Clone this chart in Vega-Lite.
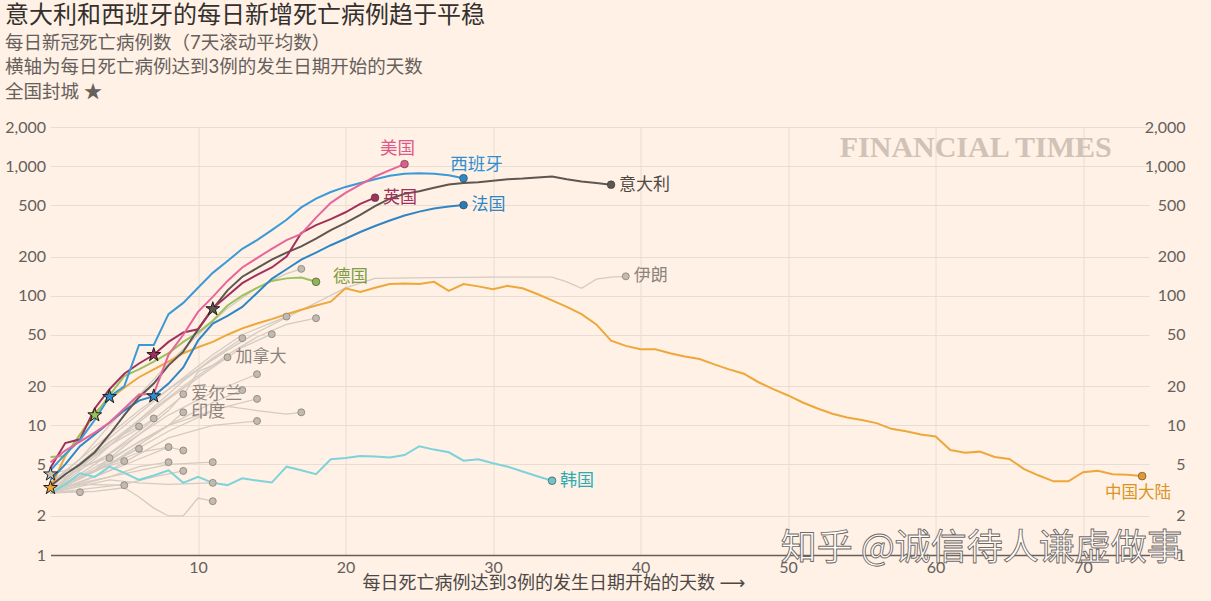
{
  "$schema": "https://vega.github.io/schema/vega-lite/v6.json",
  "width": 1099,
  "height": 428,
  "autosize": {"type": "none"},
  "padding": {"left": 50.5, "top": 127, "right": 61.5, "bottom": 46},
  "background": "#fff1e5",
  "config": {
    "view": {"stroke": null},
    "font": "Lato, 'Noto Sans CJK SC', 'DejaVu Sans', sans-serif"
  },
  "title": {
    "text": "意大利和西班牙的每日新增死亡病例趋于平稳",
    "subtitle": ["每日新冠死亡病例数（7天滚动平均数）", "横轴为每日死亡病例达到3例的发生日期开始的天数", "全国封城 ★"],
    "anchor": "start",
    "frame": "group",
    "dx": -45.5,
    "offset": 18,
    "fontSize": 24,
    "fontWeight": "normal",
    "color": "#33302e",
    "font": "Lato, 'Noto Sans CJK SC', sans-serif",
    "subtitleFont": "Lato, 'Noto Sans CJK SC', sans-serif",
    "subtitleFontSize": 18.5,
    "subtitleColor": "#66605c",
    "subtitleLineHeight": 24.5,
    "subtitlePadding": 6
  },
  "datasets": {
    "series": [
      {"c":"伊朗","d":0,"v":3.6},{"c":"伊朗","d":2,"v":5.5},{"c":"伊朗","d":4,"v":8.5},{"c":"伊朗","d":6,"v":13},{"c":"伊朗","d":8,"v":19},{"c":"伊朗","d":10,"v":27},{"c":"伊朗","d":12,"v":38},{"c":"伊朗","d":14,"v":52},{"c":"伊朗","d":16,"v":68},{"c":"伊朗","d":18,"v":88},{"c":"伊朗","d":20,"v":115},{"c":"伊朗","d":22,"v":136},{"c":"伊朗","d":26,"v":138},{"c":"伊朗","d":30,"v":139},{"c":"伊朗","d":34,"v":139},{"c":"伊朗","d":35,"v":128},{"c":"伊朗","d":36,"v":114},{"c":"伊朗","d":37,"v":134},{"c":"伊朗","d":38,"v":139},{"c":"伊朗","d":39,"v":141},
      {"c":"加拿大","d":0,"v":3},{"c":"加拿大","d":3,"v":5},{"c":"加拿大","d":6,"v":9},{"c":"加拿大","d":9,"v":17},{"c":"加拿大","d":10,"v":26},{"c":"加拿大","d":11,"v":29},{"c":"加拿大","d":12,"v":33.5},
      {"c":"爱尔兰","d":0,"v":3},{"c":"爱尔兰","d":3,"v":4.5},{"c":"爱尔兰","d":6,"v":8.5},{"c":"爱尔兰","d":8,"v":13},{"c":"爱尔兰","d":9,"v":17.4},
      {"c":"印度","d":0,"v":3.2},{"c":"印度","d":3,"v":4.5},{"c":"印度","d":6,"v":7.5},{"c":"印度","d":8,"v":10},{"c":"印度","d":9,"v":12.6},
      {"c":"g1","d":0,"v":3.5},{"c":"g1","d":2,"v":5.5},{"c":"g1","d":4,"v":10},{"c":"g1","d":6,"v":17},{"c":"g1","d":8,"v":30},{"c":"g1","d":10,"v":50},{"c":"g1","d":12,"v":80},{"c":"g1","d":14,"v":115},{"c":"g1","d":16,"v":148},{"c":"g1","d":17,"v":161},
      {"c":"g2","d":0,"v":3},{"c":"g2","d":3,"v":6},{"c":"g2","d":6,"v":11},{"c":"g2","d":9,"v":20},{"c":"g2","d":12,"v":35},{"c":"g2","d":14,"v":48},{"c":"g2","d":16,"v":60},{"c":"g2","d":18,"v":67},
      {"c":"g3","d":0,"v":3.3},{"c":"g3","d":4,"v":8},{"c":"g3","d":8,"v":19},{"c":"g3","d":11,"v":35},{"c":"g3","d":13,"v":50},{"c":"g3","d":15,"v":62},{"c":"g3","d":16,"v":69},
      {"c":"g4","d":0,"v":3.2},{"c":"g4","d":4,"v":7},{"c":"g4","d":8,"v":16},{"c":"g4","d":11,"v":28},{"c":"g4","d":13,"v":40},{"c":"g4","d":15,"v":50.5},
      {"c":"g5","d":0,"v":3},{"c":"g5","d":3,"v":5.5},{"c":"g5","d":6,"v":11},{"c":"g5","d":9,"v":22},{"c":"g5","d":11,"v":33},{"c":"g5","d":13,"v":47},
      {"c":"g6","d":0,"v":3},{"c":"g6","d":4,"v":5},{"c":"g6","d":8,"v":10},{"c":"g6","d":11,"v":15},{"c":"g6","d":13,"v":18.7},
      {"c":"g7","d":0,"v":3.5},{"c":"g7","d":4,"v":6},{"c":"g7","d":8,"v":12},{"c":"g7","d":11,"v":18},{"c":"g7","d":14,"v":24.8},
      {"c":"g8","d":0,"v":3},{"c":"g8","d":4,"v":5},{"c":"g8","d":8,"v":9},{"c":"g8","d":11,"v":13},{"c":"g8","d":12,"v":14},{"c":"g8","d":14,"v":16},
      {"c":"g9","d":0,"v":3},{"c":"g9","d":4,"v":5.5},{"c":"g9","d":8,"v":10},{"c":"g9","d":11,"v":13},{"c":"g9","d":12,"v":14},{"c":"g9","d":14,"v":13},{"c":"g9","d":16,"v":12.2},{"c":"g9","d":17,"v":12.6},
      {"c":"g10","d":0,"v":3},{"c":"g10","d":4,"v":4.5},{"c":"g10","d":8,"v":8},{"c":"g10","d":11,"v":10},{"c":"g10","d":14,"v":10.8},
      {"c":"g11","d":0,"v":3},{"c":"g11","d":2,"v":5},{"c":"g11","d":4,"v":7},{"c":"g11","d":6,"v":9.5},{"c":"g11","d":7,"v":11.3},
      {"c":"g12","d":0,"v":3.5},{"c":"g12","d":2,"v":5},{"c":"g12","d":4,"v":7.5},{"c":"g12","d":6,"v":9.8},
      {"c":"g13","d":0,"v":3},{"c":"g13","d":3,"v":4},{"c":"g13","d":6,"v":5.5},{"c":"g13","d":8,"v":6.8},
      {"c":"g14","d":0,"v":3.2},{"c":"g14","d":3,"v":4.5},{"c":"g14","d":6,"v":6.2},{"c":"g14","d":8,"v":6.8},{"c":"g14","d":9,"v":6.4},
      {"c":"g15","d":0,"v":3},{"c":"g15","d":3,"v":4.5},{"c":"g15","d":6,"v":6.6},
      {"c":"g16","d":0,"v":4.2},{"c":"g16","d":2,"v":4.8},{"c":"g16","d":4,"v":5.6},
      {"c":"g17","d":0,"v":3},{"c":"g17","d":3,"v":4.5},{"c":"g17","d":5,"v":5.3},
      {"c":"g18","d":0,"v":3},{"c":"g18","d":4,"v":4},{"c":"g18","d":6,"v":4.8},{"c":"g18","d":8,"v":5.2},
      {"c":"g19","d":0,"v":3.2},{"c":"g19","d":4,"v":4},{"c":"g19","d":8,"v":5},{"c":"g19","d":11,"v":5.2},
      {"c":"g20","d":0,"v":3},{"c":"g20","d":5,"v":3.5},{"c":"g20","d":7,"v":4},{"c":"g20","d":9,"v":4.45},
      {"c":"g21","d":0,"v":3},{"c":"g21","d":4,"v":3.8},{"c":"g21","d":6,"v":3.6},{"c":"g21","d":8,"v":3.5},{"c":"g21","d":11,"v":3.6},
      {"c":"g22","d":0,"v":3.2},{"c":"g22","d":2,"v":3.5},{"c":"g22","d":5,"v":3.45},
      {"c":"g23","d":0,"v":3},{"c":"g23","d":1,"v":3.1},{"c":"g23","d":2,"v":3.05},
      {"c":"g24","d":0,"v":3},{"c":"g24","d":3,"v":3.1},{"c":"g24","d":5,"v":3.3},{"c":"g24","d":6,"v":2.8},{"c":"g24","d":7,"v":2.3},{"c":"g24","d":8,"v":2.0},{"c":"g24","d":9,"v":2.0},{"c":"g24","d":10,"v":2.75},{"c":"g24","d":11,"v":2.6},

      {"c":"韩国","d":0,"v":3.0},{"c":"韩国","d":1,"v":3.5},{"c":"韩国","d":2,"v":4.27},{"c":"韩国","d":3,"v":4.0},{"c":"韩国","d":4,"v":4.8},{"c":"韩国","d":5,"v":4.3},{"c":"韩国","d":6,"v":3.8},{"c":"韩国","d":7,"v":4.1},{"c":"韩国","d":8,"v":4.5},{"c":"韩国","d":9,"v":3.6},{"c":"韩国","d":10,"v":4.0},{"c":"韩国","d":11,"v":3.6},{"c":"韩国","d":12,"v":3.46},{"c":"韩国","d":13,"v":3.9},{"c":"韩国","d":14,"v":3.75},{"c":"韩国","d":15,"v":3.62},{"c":"韩国","d":16,"v":4.8},{"c":"韩国","d":17,"v":4.5},{"c":"韩国","d":18,"v":4.2},{"c":"韩国","d":19,"v":5.47},{"c":"韩国","d":20,"v":5.6},{"c":"韩国","d":21,"v":5.8},{"c":"韩国","d":22,"v":5.75},{"c":"韩国","d":23,"v":5.66},{"c":"韩国","d":24,"v":5.9},{"c":"韩国","d":25,"v":6.9},{"c":"韩国","d":26,"v":6.5},{"c":"韩国","d":27,"v":6.2},{"c":"韩国","d":28,"v":5.34},{"c":"韩国","d":29,"v":5.47},{"c":"韩国","d":30,"v":5.1},{"c":"韩国","d":31,"v":4.8},{"c":"韩国","d":32,"v":4.4},{"c":"韩国","d":33,"v":4.05},{"c":"韩国","d":34,"v":3.74},

      {"c":"中国大陆","d":0,"v":3.3},{"c":"中国大陆","d":1,"v":5.8},{"c":"中国大陆","d":2,"v":8.5},{"c":"中国大陆","d":3,"v":12.5},{"c":"中国大陆","d":4,"v":16},{"c":"中国大陆","d":5,"v":19.5},{"c":"中国大陆","d":6,"v":23.5},{"c":"中国大陆","d":7,"v":27},{"c":"中国大陆","d":8,"v":31},{"c":"中国大陆","d":9,"v":36},{"c":"中国大陆","d":10,"v":40},{"c":"中国大陆","d":11,"v":44},{"c":"中国大陆","d":12,"v":50},{"c":"中国大陆","d":13,"v":56},{"c":"中国大陆","d":14,"v":61},{"c":"中国大陆","d":15,"v":66},{"c":"中国大陆","d":16,"v":72},{"c":"中国大陆","d":17,"v":78},{"c":"中国大陆","d":18,"v":84},{"c":"中国大陆","d":19,"v":90},{"c":"中国大陆","d":20,"v":114},{"c":"中国大陆","d":21,"v":107},{"c":"中国大陆","d":22,"v":115},{"c":"中国大陆","d":23,"v":123},{"c":"中国大陆","d":24,"v":124},{"c":"中国大陆","d":25,"v":123},{"c":"中国大陆","d":26,"v":128},{"c":"中国大陆","d":27,"v":109},{"c":"中国大陆","d":28,"v":123},{"c":"中国大陆","d":29,"v":118},{"c":"中国大陆","d":30,"v":112},{"c":"中国大陆","d":31,"v":119},{"c":"中国大陆","d":32,"v":114},{"c":"中国大陆","d":33,"v":103},{"c":"中国大陆","d":34,"v":92},{"c":"中国大陆","d":35,"v":82},{"c":"中国大陆","d":36,"v":72},{"c":"中国大陆","d":37,"v":60},{"c":"中国大陆","d":38,"v":45},{"c":"中国大陆","d":39,"v":41},{"c":"中国大陆","d":40,"v":38.6},{"c":"中国大陆","d":41,"v":38.6},{"c":"中国大陆","d":42,"v":36},{"c":"中国大陆","d":43,"v":34},{"c":"中国大陆","d":44,"v":32.5},{"c":"中国大陆","d":45,"v":29.5},{"c":"中国大陆","d":46,"v":27},{"c":"中国大陆","d":47,"v":25},{"c":"中国大陆","d":48,"v":21.5},{"c":"中国大陆","d":49,"v":19},{"c":"中国大陆","d":50,"v":17},{"c":"中国大陆","d":51,"v":15},{"c":"中国大陆","d":52,"v":13.5},{"c":"中国大陆","d":53,"v":12.3},{"c":"中国大陆","d":54,"v":11.5},{"c":"中国大陆","d":55,"v":11},{"c":"中国大陆","d":56,"v":10.4},{"c":"中国大陆","d":57,"v":9.4},{"c":"中国大陆","d":58,"v":9},{"c":"中国大陆","d":59,"v":8.5},{"c":"中国大陆","d":60,"v":8.2},{"c":"中国大陆","d":61,"v":6.45},{"c":"中国大陆","d":62,"v":6.15},{"c":"中国大陆","d":63,"v":6.27},{"c":"中国大陆","d":64,"v":5.7},{"c":"中国大陆","d":65,"v":5.5},{"c":"中国大陆","d":66,"v":4.6},{"c":"中国大陆","d":67,"v":4.1},{"c":"中国大陆","d":68,"v":3.7},{"c":"中国大陆","d":69,"v":3.7},{"c":"中国大陆","d":70,"v":4.35},{"c":"中国大陆","d":71,"v":4.47},{"c":"中国大陆","d":72,"v":4.2},{"c":"中国大陆","d":73,"v":4.15},{"c":"中国大陆","d":74,"v":4.06},

      {"c":"德国","d":0,"v":5.7},{"c":"德国","d":1,"v":5.8},{"c":"德国","d":2,"v":8.5},{"c":"德国","d":3,"v":12},{"c":"德国","d":4,"v":17},{"c":"德国","d":5,"v":24},{"c":"德国","d":6,"v":27},{"c":"德国","d":7,"v":31},{"c":"德国","d":8,"v":36},{"c":"德国","d":9,"v":44},{"c":"德国","d":10,"v":52},{"c":"德国","d":11,"v":64},{"c":"德国","d":12,"v":84},{"c":"德国","d":13,"v":100},{"c":"德国","d":14,"v":115},{"c":"德国","d":15,"v":130},{"c":"德国","d":16,"v":136},{"c":"德国","d":17,"v":138},{"c":"德国","d":18,"v":128},

      {"c":"法国","d":0,"v":3.8},{"c":"法国","d":1,"v":5},{"c":"法国","d":2,"v":6.9},{"c":"法国","d":3,"v":8.5},{"c":"法国","d":4,"v":10.5},{"c":"法国","d":5,"v":13},{"c":"法国","d":6,"v":15.5},{"c":"法国","d":7,"v":16.8},{"c":"法国","d":8,"v":21},{"c":"法国","d":9,"v":28},{"c":"法国","d":10,"v":45},{"c":"法国","d":11,"v":61},{"c":"法国","d":12,"v":70},{"c":"法国","d":13,"v":82},{"c":"法国","d":14,"v":105},{"c":"法国","d":15,"v":135},{"c":"法国","d":16,"v":160},{"c":"法国","d":17,"v":190},{"c":"法国","d":18,"v":215},{"c":"法国","d":19,"v":245},{"c":"法国","d":20,"v":275},{"c":"法国","d":21,"v":310},{"c":"法国","d":22,"v":345},{"c":"法国","d":23,"v":380},{"c":"法国","d":24,"v":415},{"c":"法国","d":25,"v":445},{"c":"法国","d":26,"v":470},{"c":"法国","d":27,"v":488},{"c":"法国","d":28,"v":500},

      {"c":"意大利","d":0,"v":3.4},{"c":"意大利","d":1,"v":4.2},{"c":"意大利","d":2,"v":5},{"c":"意大利","d":3,"v":6.2},{"c":"意大利","d":4,"v":8.5},{"c":"意大利","d":5,"v":12},{"c":"意大利","d":6,"v":16.5},{"c":"意大利","d":7,"v":21},{"c":"意大利","d":8,"v":29},{"c":"意大利","d":9,"v":37},{"c":"意大利","d":10,"v":55},{"c":"意大利","d":11,"v":79},{"c":"意大利","d":12,"v":110},{"c":"意大利","d":13,"v":140},{"c":"意大利","d":14,"v":163},{"c":"意大利","d":15,"v":190},{"c":"意大利","d":16,"v":215},{"c":"意大利","d":17,"v":240},{"c":"意大利","d":18,"v":275},{"c":"意大利","d":19,"v":320},{"c":"意大利","d":20,"v":365},{"c":"意大利","d":21,"v":420},{"c":"意大利","d":22,"v":490},{"c":"意大利","d":23,"v":560},{"c":"意大利","d":24,"v":610},{"c":"意大利","d":25,"v":640},{"c":"意大利","d":26,"v":680},{"c":"意大利","d":27,"v":720},{"c":"意大利","d":28,"v":740},{"c":"意大利","d":29,"v":750},{"c":"意大利","d":30,"v":770},{"c":"意大利","d":31,"v":790},{"c":"意大利","d":32,"v":800},{"c":"意大利","d":33,"v":815},{"c":"意大利","d":34,"v":830},{"c":"意大利","d":35,"v":790},{"c":"意大利","d":36,"v":760},{"c":"意大利","d":37,"v":740},{"c":"意大利","d":38,"v":718},

      {"c":"英国","d":0,"v":4.7},{"c":"英国","d":1,"v":7.3},{"c":"英国","d":2,"v":7.8},{"c":"英国","d":3,"v":13.5},{"c":"英国","d":4,"v":19},{"c":"英国","d":5,"v":25},{"c":"英国","d":6,"v":30},{"c":"英国","d":7,"v":35},{"c":"英国","d":8,"v":44},{"c":"英国","d":9,"v":52},{"c":"英国","d":10,"v":55},{"c":"英国","d":11,"v":80},{"c":"英国","d":12,"v":100},{"c":"英国","d":13,"v":125},{"c":"英国","d":14,"v":145},{"c":"英国","d":15,"v":165},{"c":"英国","d":16,"v":200},{"c":"英国","d":17,"v":305},{"c":"英国","d":18,"v":350},{"c":"英国","d":19,"v":390},{"c":"英国","d":20,"v":440},{"c":"英国","d":21,"v":510},{"c":"英国","d":22,"v":570},

      {"c":"西班牙","d":0,"v":4.5},{"c":"西班牙","d":1,"v":6},{"c":"西班牙","d":2,"v":7.7},{"c":"西班牙","d":3,"v":11},{"c":"西班牙","d":4,"v":16.6},{"c":"西班牙","d":5,"v":20},{"c":"西班牙","d":6,"v":41.7},{"c":"西班牙","d":7,"v":41.7},{"c":"西班牙","d":8,"v":72},{"c":"西班牙","d":9,"v":88},{"c":"西班牙","d":10,"v":115},{"c":"西班牙","d":11,"v":150},{"c":"西班牙","d":12,"v":185},{"c":"西班牙","d":13,"v":230},{"c":"西班牙","d":14,"v":268},{"c":"西班牙","d":15,"v":320},{"c":"西班牙","d":16,"v":385},{"c":"西班牙","d":17,"v":480},{"c":"西班牙","d":18,"v":560},{"c":"西班牙","d":19,"v":630},{"c":"西班牙","d":20,"v":690},{"c":"西班牙","d":21,"v":740},{"c":"西班牙","d":22,"v":790},{"c":"西班牙","d":23,"v":840},{"c":"西班牙","d":24,"v":870},{"c":"西班牙","d":25,"v":880},{"c":"西班牙","d":26,"v":870},{"c":"西班牙","d":27,"v":850},{"c":"西班牙","d":28,"v":805},

      {"c":"美国","d":0,"v":5.2},{"c":"美国","d":1,"v":6.4},{"c":"美国","d":2,"v":7.5},{"c":"美国","d":3,"v":8.8},{"c":"美国","d":4,"v":10.5},{"c":"美国","d":5,"v":13.5},{"c":"美国","d":6,"v":17.3},{"c":"美国","d":7,"v":17.5},{"c":"美国","d":8,"v":35},{"c":"美国","d":9,"v":50},{"c":"美国","d":10,"v":75},{"c":"美国","d":11,"v":98},{"c":"美国","d":12,"v":130},{"c":"美国","d":13,"v":165},{"c":"美国","d":14,"v":195},{"c":"美国","d":15,"v":230},{"c":"美国","d":16,"v":268},{"c":"美国","d":17,"v":300},{"c":"美国","d":18,"v":400},{"c":"美国","d":19,"v":520},{"c":"美国","d":20,"v":620},{"c":"美国","d":21,"v":720},{"c":"美国","d":22,"v":830},{"c":"美国","d":23,"v":930},{"c":"美国","d":24,"v":1035}
    ],
    "stars": [
      {"c":"中国大陆","d":0,"v":3.3},
      {"c":"g16","d":0,"v":4.2},
      {"c":"德国","d":3,"v":12},
      {"c":"西班牙","d":4,"v":16.6},
      {"c":"英国","d":7,"v":35},
      {"c":"法国","d":7,"v":16.8},
      {"c":"意大利","d":11,"v":79}
    ]
  },
  "resolve": {"axis": {"x": "independent", "y": "independent"}, "scale": {"color": "independent"}},
  "layer": [
    {
      "data": {"name": "series"},
      "transform": [{"filter": {"not": {"field": "c", "oneOf": ["韩国","中国大陆","德国","法国","意大利","英国","西班牙","美国"]}}}],
      "mark": {"type": "line", "color": "#d5cbc2", "strokeWidth": 1.3},
      "encoding": {
        "x": {"field": "d", "type": "quantitative", "scale": {"domain": [0, 74.5], "nice": false, "zero": false},
          "axis": {"orient": "bottom", "values": [10,20,30,40,50,60,70], "domain": true, "domainColor": "#66605c", "domainWidth": 1.5, "ticks": false, "labelPadding": 4, "labelFontSize": 16, "labelColor": "#66605c", "grid": true, "gridColor": "#e8ddd3", "gridWidth": 1,
            "title": "每日死亡病例达到3例的发生日期开始的天数 ⟶", "titleFontSize": 18, "titleFontWeight": "normal", "titleColor": "#4d4845", "titleAnchor": "start", "titleAlign": "left", "titleBaseline": "middle", "titleX": 311.5, "titleY": 28}},
        "y": {"field": "v", "type": "quantitative", "scale": {"type": "log", "domain": [1, 2000], "nice": false},
          "axis": {"orient": "left", "values": [1,2,5,10,20,50,100,200,500,1000,2000], "format": ",", "domain": false, "ticks": false, "grid": true, "gridColor": "#e8ddd3", "gridWidth": 1, "labelPadding": 5, "labelFontSize": 16, "labelColor": "#66605c", "title": null}},
        "detail": {"field": "c", "type": "nominal"}
      }
    },
    {
      "data": {"name": "series"},
      "transform": [{"filter": {"field": "c", "oneOf": ["韩国","中国大陆","德国","法国","意大利","英国","西班牙","美国"]}}],
      "mark": {"type": "line", "strokeWidth": 2},
      "encoding": {
        "x": {"field": "d", "type": "quantitative", "scale": {"domain": [0, 74.5], "nice": false, "zero": false}, "axis": null},
        "y": {"field": "v", "type": "quantitative", "scale": {"type": "log", "domain": [1, 2000], "nice": false}, "axis": null},
        "color": {"field": "c", "type": "nominal", "legend": null,
          "scale": {"domain": ["韩国","中国大陆","德国","法国","意大利","英国","西班牙","美国"], "range": ["#7dd3da","#eea73b","#9cc25c","#2e86c6","#5e5651","#a1315c","#3a9ad8","#e6659a"]}}
      }
    },
    {
      "data": {"name": "series"},
      "transform": [
        {"filter": {"not": {"field": "c", "oneOf": ["韩国","中国大陆","德国","法国","意大利","英国","西班牙","美国"]}}},
        {"joinaggregate": [{"op": "max", "field": "d", "as": "maxd"}], "groupby": ["c"]},
        {"filter": "datum.d === datum.maxd"}
      ],
      "mark": {"type": "circle", "size": 48, "color": "#c2b9b1", "opacity": 1, "stroke": "#968d86", "strokeWidth": 1},
      "encoding": {
        "x": {"field": "d", "type": "quantitative", "scale": {"domain": [0, 74.5], "nice": false, "zero": false}, "axis": null},
        "y": {"field": "v", "type": "quantitative", "scale": {"type": "log", "domain": [1, 2000], "nice": false}, "axis": null}
      }
    },
    {
      "data": {"name": "series"},
      "transform": [
        {"filter": {"field": "c", "oneOf": ["韩国","中国大陆","德国","法国","意大利","英国","西班牙","美国"]}},
        {"joinaggregate": [{"op": "max", "field": "d", "as": "maxd"}], "groupby": ["c"]},
        {"filter": "datum.d === datum.maxd"}
      ],
      "mark": {"type": "circle", "size": 60, "opacity": 1, "stroke": "#3a3431", "strokeOpacity": 0.55, "strokeWidth": 1},
      "encoding": {
        "x": {"field": "d", "type": "quantitative", "scale": {"domain": [0, 74.5], "nice": false, "zero": false}, "axis": null},
        "y": {"field": "v", "type": "quantitative", "scale": {"type": "log", "domain": [1, 2000], "nice": false},
          "axis": {"orient": "right", "values": [1,2,5,10,20,50,100,200,500,1000,2000], "format": ",", "domain": false, "ticks": false, "grid": false, "labelAlign": "right", "labelPadding": 35.5, "labelFontSize": 16, "labelColor": "#66605c", "title": null}},
        "color": {"field": "c", "type": "nominal", "legend": null,
          "scale": {"domain": ["韩国","中国大陆","德国","法国","意大利","英国","西班牙","美国"], "range": ["#6fc3cb","#e39a30","#8fb550","#2a7cb9","#5e5651","#a1315c","#2f88c6","#e05a8f"]}}
      }
    },
    {
      "data": {"name": "stars"},
      "mark": {"type": "point", "filled": true, "opacity": 1, "size": 210, "stroke": "#1f1b19", "strokeWidth": 1,
        "shape": "M0,-1L0.2245,-0.309L0.9511,-0.309L0.3633,0.118L0.5878,0.809L0,0.382L-0.5878,0.809L-0.3633,0.118L-0.9511,-0.309L-0.2245,-0.309Z"},
      "encoding": {
        "x": {"field": "d", "type": "quantitative", "scale": {"domain": [0, 74.5], "nice": false, "zero": false}, "axis": null},
        "y": {"field": "v", "type": "quantitative", "scale": {"type": "log", "domain": [1, 2000], "nice": false}, "axis": null},
        "fill": {"field": "c", "type": "nominal", "legend": null,
          "scale": {"domain": ["中国大陆","g16","德国","西班牙","英国","法国","意大利"], "range": ["#eea73b","#cbc3bb","#9cc25c","#2f8fd0","#a1315c","#2f8fd0","#5e5651"]}}
      }
    },
    {
      "data": {"name": "series"},
      "transform": [
        {"filter": {"field": "c", "oneOf": ["英国","意大利","法国","伊朗","加拿大","爱尔兰","印度","韩国"]}},
        {"joinaggregate": [{"op": "max", "field": "d", "as": "maxd"}], "groupby": ["c"]},
        {"filter": "datum.d === datum.maxd"}
      ],
      "mark": {"type": "text", "align": "left", "baseline": "middle", "dx": 8, "fontSize": 17},
      "encoding": {
        "x": {"field": "d", "type": "quantitative", "scale": {"domain": [0, 74.5], "nice": false, "zero": false}, "axis": null},
        "y": {"field": "v", "type": "quantitative", "scale": {"type": "log", "domain": [1, 2000], "nice": false}, "axis": null},
        "text": {"field": "c"},
        "color": {"field": "c", "type": "nominal", "legend": null,
          "scale": {"domain": ["英国","意大利","法国","伊朗","加拿大","爱尔兰","印度","韩国"], "range": ["#a1315c","#4e4844","#2e86c6","#8c837d","#8c837d","#8c837d","#8c837d","#2aabb2"]}}
      }
    },
    {
      "data": {"name": "series"},
      "transform": [
        {"filter": {"field": "c", "equal": "德国"}},
        {"joinaggregate": [{"op": "max", "field": "d", "as": "maxd"}], "groupby": ["c"]},
        {"filter": "datum.d === datum.maxd"}
      ],
      "mark": {"type": "text", "align": "left", "baseline": "middle", "dx": 17, "dy": -5, "fontSize": 17.5, "color": "#7f9c44"},
      "encoding": {
        "x": {"field": "d", "type": "quantitative", "scale": {"domain": [0, 74.5], "nice": false, "zero": false}, "axis": null},
        "y": {"field": "v", "type": "quantitative", "scale": {"type": "log", "domain": [1, 2000], "nice": false}, "axis": null},
        "text": {"field": "c"}
      }
    },
    {
      "data": {"name": "series"},
      "transform": [
        {"filter": {"field": "c", "equal": "美国"}},
        {"joinaggregate": [{"op": "max", "field": "d", "as": "maxd"}], "groupby": ["c"]},
        {"filter": "datum.d === datum.maxd"}
      ],
      "mark": {"type": "text", "align": "center", "baseline": "middle", "dx": -7, "dy": -15, "fontSize": 17.5, "color": "#e0588a"},
      "encoding": {
        "x": {"field": "d", "type": "quantitative", "scale": {"domain": [0, 74.5], "nice": false, "zero": false}, "axis": null},
        "y": {"field": "v", "type": "quantitative", "scale": {"type": "log", "domain": [1, 2000], "nice": false}, "axis": null},
        "text": {"field": "c"}
      }
    },
    {
      "data": {"name": "series"},
      "transform": [
        {"filter": {"field": "c", "equal": "西班牙"}},
        {"joinaggregate": [{"op": "max", "field": "d", "as": "maxd"}], "groupby": ["c"]},
        {"filter": "datum.d === datum.maxd"}
      ],
      "mark": {"type": "text", "align": "center", "baseline": "middle", "dx": 13, "dy": -13, "fontSize": 17.5, "color": "#2f8fd0"},
      "encoding": {
        "x": {"field": "d", "type": "quantitative", "scale": {"domain": [0, 74.5], "nice": false, "zero": false}, "axis": null},
        "y": {"field": "v", "type": "quantitative", "scale": {"type": "log", "domain": [1, 2000], "nice": false}, "axis": null},
        "text": {"field": "c"}
      }
    },
    {
      "data": {"name": "series"},
      "transform": [
        {"filter": {"field": "c", "equal": "中国大陆"}},
        {"joinaggregate": [{"op": "max", "field": "d", "as": "maxd"}], "groupby": ["c"]},
        {"filter": "datum.d === datum.maxd"}
      ],
      "mark": {"type": "text", "align": "center", "baseline": "middle", "dx": -4, "dy": 17, "fontSize": 16.5, "color": "#d99424"},
      "encoding": {
        "x": {"field": "d", "type": "quantitative", "scale": {"domain": [0, 74.5], "nice": false, "zero": false}, "axis": null},
        "y": {"field": "v", "type": "quantitative", "scale": {"type": "log", "domain": [1, 2000], "nice": false}, "axis": null},
        "text": {"field": "c"}
      }
    },
    {
      "data": {"values": [{"t": "FINANCIAL TIMES"}]},
      "mark": {"type": "text", "font": "Liberation Serif", "fontSize": 30, "fontWeight": "bold", "color": "#d0c2b6", "align": "left", "baseline": "middle"},
      "encoding": {
        "text": {"field": "t"},
        "x": {"datum": 53.5, "type": "quantitative", "scale": {"domain": [0, 74.5], "nice": false, "zero": false}, "axis": null},
        "y": {"datum": 1380, "type": "quantitative", "scale": {"type": "log", "domain": [1, 2000], "nice": false}, "axis": null}
      }
    },
    {
      "data": {"values": [{"t": "知乎 @诚信待人谦虚做事"}]},
      "mark": {"type": "text", "font": "Noto Sans CJK SC", "fontSize": 36, "color": "#ffffff", "stroke": "#6a625d", "strokeWidth": 0.9, "align": "left", "baseline": "middle", "opacity": 0.95},
      "encoding": {
        "text": {"field": "t"},
        "x": {"datum": 49.5, "type": "quantitative", "scale": {"domain": [0, 74.5], "nice": false, "zero": false}, "axis": null},
        "y": {"datum": 1.11, "type": "quantitative", "scale": {"type": "log", "domain": [1, 2000], "nice": false}, "axis": null}
      }
    }
  ]
}
